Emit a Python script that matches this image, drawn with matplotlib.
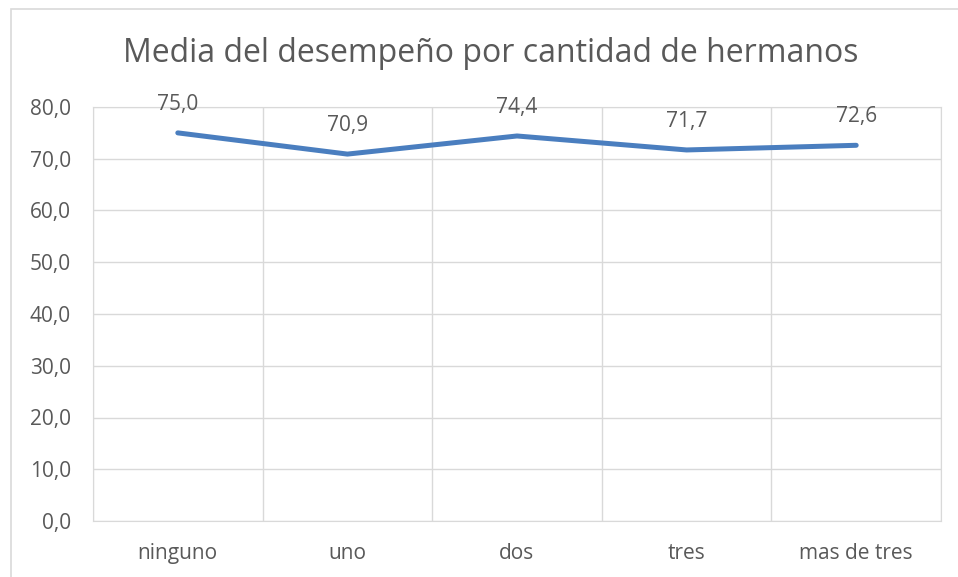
import matplotlib.pyplot as plt
from matplotlib.patches import Rectangle

categorias = ['ninguno', 'uno', 'dos', 'tres', 'mas de tres']
media = [75.0, 70.9, 74.4, 71.7, 72.6]
yticks = [0, 10, 20, 30, 40, 50, 60, 70, 80]

plt.rcParams['font.family'] = ['Open Sans', 'DejaVu Sans']
gris = '#595959'

fig = plt.figure(figsize=(9.58, 5.77), dpi=100)
fig.patches.append(Rectangle((11 / 958, -0.1), 1.2, 1 - 9 / 577 + 0.1,
                             transform=fig.transFigure, fill=False,
                             edgecolor='#D9D9D9', linewidth=1.2))
ax = fig.add_axes([93 / 958, 1 - 521 / 577, 848 / 958, 414 / 577])

x = range(len(categorias))
ax.plot(x, media, color='#4A7EBF', linewidth=3.6, solid_capstyle='round', zorder=3)
for i, v in zip(x, media):
    ax.annotate(f'{v:.1f}'.replace('.', ','), (i, v), xytext=(0, 13),
                textcoords='offset points', ha='center', va='bottom',
                fontsize=15, color=gris)

ax.set_xlim(-0.5, len(categorias) - 0.5)
ax.set_ylim(0, 80)
ax.set_yticks(yticks)
ax.set_yticklabels([f'{t:.1f}'.replace('.', ',') for t in yticks])
ax.set_xticks(list(x))
ax.set_xticklabels(categorias)
ax.set_xticks([i - 0.5 for i in range(len(categorias) + 1)], minor=True)
ax.grid(axis='y', color='#D9D9D9', linewidth=1)
ax.grid(axis='x', which='minor', color='#D9D9D9', linewidth=1)
ax.tick_params(which='both', length=0, labelsize=15, colors=gris)
ax.tick_params(axis='y', pad=16)
ax.tick_params(axis='x', pad=16)
for s in ax.spines.values():
    s.set_color('#D9D9D9')
ax.set_axisbelow(True)

fig.text(0.512, 1 - 54 / 577, 'Media del desempeño por cantidad de hermanos',
         ha='center', va='center', fontsize=23, color=gris)

plt.savefig('out.png', dpi=100)
